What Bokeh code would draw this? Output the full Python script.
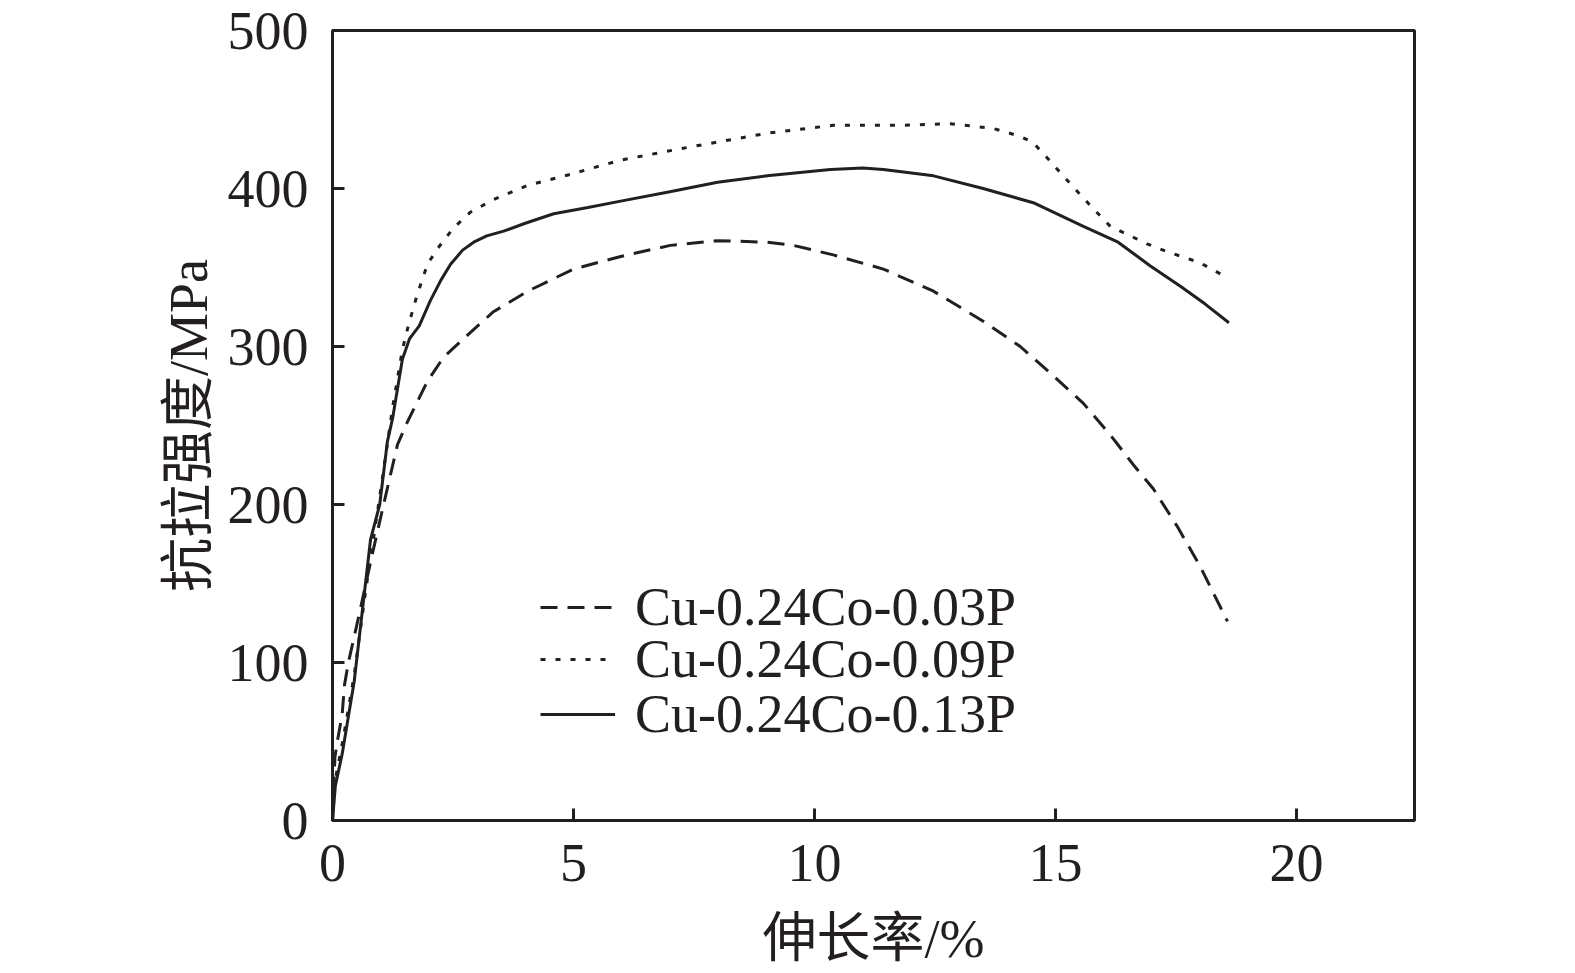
from bokeh.plotting import figure
from bokeh.models import Range1d, Legend, LegendItem, FixedTicker
from bokeh.embed import file_html
from bokeh.resources import INLINE

# tensile curves
strain_003 = [0, 0.05, 0.1, 0.2, 0.25, 0.33, 0.55, 0.8, 1.06, 1.25, 1.35, 1.55, 1.76, 1.97,
              2.3, 2.72, 3.34, 4.05, 5.0, 5.98, 7.01, 7.99, 9.02, 9.56, 10.39, 11.43, 12.47,
              13.5, 14.27, 14.9, 15.58, 16.14, 16.62, 17.03, 17.53, 18.0, 18.57]
stress_003 = [0, 40, 50, 67, 86, 100, 130, 165, 200, 225, 238, 252, 265, 278,
              293, 305, 322, 335, 349, 357, 364, 367, 366, 364, 358, 349, 335,
              316, 300, 283, 264, 244, 225, 210, 186, 161, 126]

strain_009 = [0, 0.05, 0.2, 0.45, 0.7, 0.98, 1.25, 1.45, 1.58, 1.76, 1.97, 2.18, 2.51, 2.86,
              3.34, 4.05, 4.94, 5.98, 7.37, 9.02, 10.39, 11.78, 12.82, 13.71, 14.27, 14.54,
              14.9, 15.25, 15.73, 16.14, 16.9, 17.32, 18.0, 18.6]
stress_009 = [0, 25, 48, 92, 148, 205, 262, 298, 314, 333, 352, 362, 375, 385,
              393, 402, 409, 418, 426, 435, 440, 440, 441, 438, 433, 429,
              417, 405, 389, 376, 365, 360, 353, 343]

strain_013 = [0, 0.06, 0.2, 0.45, 0.79, 0.98, 1.14, 1.25, 1.45, 1.6, 1.8, 2.03, 2.25, 2.45,
              2.7, 2.93, 3.2, 3.55, 4.0, 4.59, 5.3, 5.98, 7.0, 7.99, 9.02, 10.33, 11.0,
              11.43, 12.47, 13.5, 14.54, 15.58, 16.3, 16.97, 17.6, 18.1, 18.6]
stress_013 = [0, 22, 42, 88, 178, 200, 240, 255, 292, 305, 313, 329, 342, 352,
              361, 366, 370, 373, 378, 384, 388, 392, 398, 404, 408, 412, 413,
              412, 408, 400, 391, 376, 366, 351, 338, 327, 315]

names = ["Cu-0.24Co-0.03P", "Cu-0.24Co-0.09P", "Cu-0.24Co-0.13P"]
x_ticks = [0, 5, 10, 15, 20]
y_ticks = [0, 100, 200, 300, 400, 500]

serif = "Liberation Serif"
cjk = "Liberation Serif, Noto Sans CJK SC"

p = figure(frame_width=1082, frame_height=790,
           x_range=Range1d(0, 22.45), y_range=Range1d(0, 500),
           output_backend="svg", toolbar_location=None,
           min_border_left=332, min_border_top=30,
           min_border_right=118, min_border_bottom=125,
           x_axis_label="伸长率/%", y_axis_label="抗拉强度/MPa")

p.xgrid.visible = False
p.ygrid.visible = False
p.outline_line_color = "#231f20"
p.outline_line_width = 3
p.background_fill_color = "white"
p.border_fill_color = "white"

p.xaxis.ticker = FixedTicker(ticks=x_ticks)
p.yaxis.ticker = FixedTicker(ticks=y_ticks)
for ax in (p.xaxis, p.yaxis):
    ax.axis_line_width = 3
    ax.axis_line_color = "#231f20"
    ax.major_tick_in = 12
    ax.major_tick_out = 0
    ax.major_tick_line_width = 3
    ax.major_tick_line_color = "#231f20"
    ax.minor_tick_line_color = None
    ax.major_label_text_font = serif
    ax.major_label_text_font_size = "54px"
    ax.major_label_text_color = "#231f20"
    ax.axis_label_text_font = cjk
    ax.axis_label_text_font_size = "54px"
    ax.axis_label_text_font_style = "normal"
    ax.axis_label_text_color = "#231f20"

p.xaxis.major_label_standoff = 24
p.xaxis.axis_label_standoff = 25
p.yaxis.major_label_standoff = 24
p.yaxis.axis_label_standoff = 6

r1 = p.line(strain_003, stress_003, line_color="#231f20", line_width=3, line_dash="17 10")
r2 = p.line(strain_009, stress_009, line_color="#231f20", line_width=3, line_dash="5 10")
r3 = p.line(strain_013, stress_013, line_color="#231f20", line_width=3)

# one legend per row so the rows can sit as tight as in the figure
legend_y = [182, 130, 75]
for name, r, ly in zip(names, [r1, r2, r3], legend_y):
    legend = Legend(items=[LegendItem(label=name, renderers=[r])], location=(208, ly))
    legend.label_text_font = serif
    legend.label_text_font_size = "54px"
    legend.label_text_color = "#231f20"
    legend.glyph_width = 75
    legend.glyph_height = 40
    legend.label_height = 40
    legend.padding = 0
    legend.margin = 0
    legend.label_standoff = 20
    legend.border_line_color = None
    legend.background_fill_alpha = 0
    p.add_layout(legend)

open("out.html", "w").write(file_html(p, INLINE))
